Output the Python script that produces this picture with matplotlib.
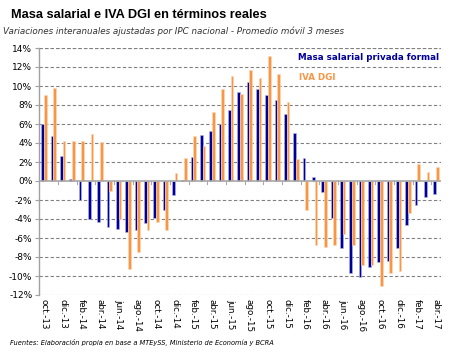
import numpy as np
import matplotlib
matplotlib.use("Agg")
from matplotlib import pyplot as plt

# meses oct-13 .. abr-17
meses_abr = ['ene', 'feb', 'mar', 'abr', 'may', 'jun', 'jul', 'ago', 'sep', 'oct', 'nov', 'dic']
meses = []
for k in range(43):
    m = (9 + k) % 12
    a = 13 + (9 + k) // 12
    meses.append(meses_abr[m] + '.-' + str(a))

masa_salarial = [6.0, 4.7, 2.67, 0.2, -2.05, -4.0, -4.35, -4.8, -5.1, -5.4, -5.2, -4.4, -3.93, -3.0,
                 -1.5, 0.14, 2.56, 4.88, 5.26, 5.96, 7.5, 9.33, 10.39, 9.65, 9.05, 8.56, 7.02, 5.09,
                 2.39, 0.42, -1.19, -3.93, -7.09, -9.72, -10.1, -9.0, -8.49, -8.4, -7.1, -4.67, -2.53,
                 -1.65, -1.4]
iva_dgi = [9.05, 9.8, 4.2, 4.2, 4.2, 4.95, 4.1, -1.0, -4.0, -9.26, -7.44, -5.2, -4.3, -5.16,
           0.84, 2.46, 4.77, 3.68, 7.23, 9.68, 11.09, 9.12, 11.65, 10.88, 13.12, 11.26, 8.32, 2.35,
           -3.05, -6.74, -6.91, -6.77, -5.54, -6.74, -8.85, -8.8, -11.1, -9.65, -9.45, -3.4, 1.79,
           0.98, 1.47]

AZUL = '#000099'
NARANJA = '#F79646'

fig = plt.figure(figsize=(4.57, 3.52), dpi=100)
ax = fig.add_axes([39.3 / 457, 1 - 295 / 352, 401.3 / 457, 247 / 352])

x = np.arange(len(meses))
w = 0.29
ax.bar(x - w / 2, masa_salarial, w, color=AZUL, edgecolor='#B8B8E8', linewidth=0.4, zorder=3)
ax.bar(x + w / 2, iva_dgi, w, color=NARANJA, edgecolor='#FCD9B8', linewidth=0.4, zorder=3)

ax.set_xlim(-0.5, len(meses) - 0.5)
ax.set_ylim(-12, 14)
yt = np.arange(-12, 15, 2)
ax.set_yticks(yt)
ax.set_yticklabels([f'{v}%' for v in yt], fontsize=6.5)
ax.tick_params(axis='y', length=3, width=0.8, color='#A0A0A0', pad=2)
for v in yt:
    if v != 0:
        ax.axhline(v, color='#808080', lw=0.8, ls=(0, (3, 2)), zorder=1)
ax.axhline(14, color='#808080', lw=0.8, ls=(0, (3, 2)), zorder=1)

# eje en 0 con marcas entre categorias
ax.axhline(0, color='#A8A8A8', lw=1.2, zorder=4)
for b in np.arange(1.5, len(meses), 2):
    ax.plot([b, b], [0, -0.35], color='#A8A8A8', lw=0.8, zorder=4)

ax.set_xticks(x[::2])
ax.set_xticklabels(meses[::2], rotation=-90, fontsize=6.3, va='top', ha='center')
ax.tick_params(axis='x', length=0, pad=3)

for s in ['top', 'right', 'bottom']:
    ax.spines[s].set_visible(False)
ax.spines['left'].set_color('#A0A0A0')
ax.spines['left'].set_linewidth(1.0)

fig.text(11 / 457, 1 - 15 / 352, 'Masa salarial e IVA DGI en términos reales',
         fontsize=9.2, fontweight='bold', family='Liberation Sans', va='center', ha='left')
fig.text(3 / 457, 1 - 31 / 352,
         'Variaciones interanuales ajustadas por IPC nacional - Promedio móvil 3 meses',
         fontsize=6.3, style='italic', color='#333333', va='center', ha='left')
fig.text(298 / 457, 1 - 57 / 352, 'Masa salarial privada formal', fontsize=6.3,
         fontweight='bold', color=AZUL, va='center', ha='left')
fig.text(299 / 457, 1 - 77 / 352, 'IVA DGI', fontsize=6.3,
         fontweight='bold', color=NARANJA, va='center', ha='left')
fig.text(10 / 457, 1 - 342 / 352,
         'Fuentes: Elaboración propia en base a MTEySS, Ministerio de Economía y BCRA',
         fontsize=4.8, style='italic', va='center', ha='left')

fig.savefig('out.png', dpi=100)
